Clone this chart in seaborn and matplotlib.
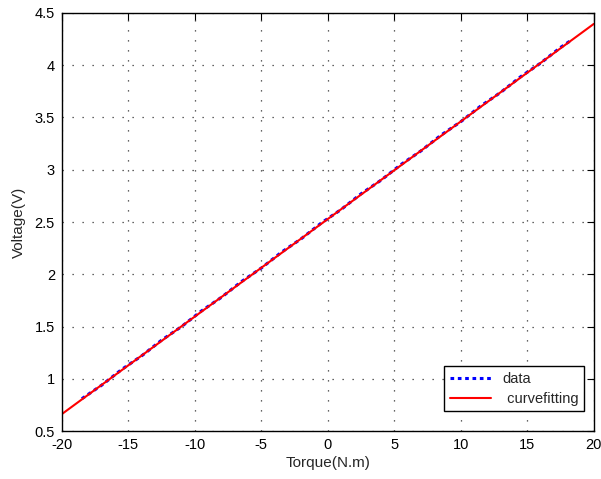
import pandas as pd
import seaborn as sns
import matplotlib.pyplot as plt

# measured points (dotted blue)
torque = [-18.5, -17, -15.5, -14, -12.5, -11, -9.5, -8, -6.5, -5, -3.5, -2, -0.5,
          1, 2.5, 4, 5.5, 7, 8.5, 10, 11.5, 13, 14.5, 16, 17.5, 18.2]
voltage = [0.81, 0.94, 1.09, 1.22, 1.37, 1.50, 1.65, 1.78, 1.93, 2.06, 2.21, 2.34, 2.49,
           2.62, 2.77, 2.90, 3.05, 3.18, 3.33, 3.46, 3.61, 3.74, 3.89, 4.02, 4.17, 4.23]

# fitted line (solid red)
fit_torque = [-20, 20]
fit_voltage = [0.663, 4.395]

xticks = [-20, -15, -10, -5, 0, 5, 10, 15, 20]
yticks = [0.5, 1, 1.5, 2, 2.5, 3, 3.5, 4, 4.5]


def create_plot():
    sns.set_style('white')
    plt.rcParams['font.family'] = ['Liberation Sans', 'DejaVu Sans']

    df = pd.DataFrame({'Torque': torque, 'Voltage': voltage})
    fit = pd.DataFrame({'Torque': fit_torque, 'Voltage': fit_voltage})

    fig = plt.figure(figsize=(6.01, 4.79), dpi=100)
    ax = fig.add_axes([0.103, 0.1, 0.885, 0.873])

    sns.lineplot(data=df, x='Torque', y='Voltage', ax=ax, color='blue',
                 linestyle=(0, (1.2, 1.2)), linewidth=2.2, label='data')
    sns.lineplot(data=fit, x='Torque', y='Voltage', ax=ax, color='red',
                 linewidth=1.5, label=' curvefitting')

    ax.set_xlim(-20, 20)
    ax.set_ylim(0.5, 4.5)
    ax.set_xticks(xticks)
    ax.set_yticks(yticks)
    ax.set_xticklabels([f'{t:g}' for t in xticks])
    ax.set_yticklabels([f'{t:g}' for t in yticks])
    ax.grid(True, color='#333333', linestyle=(0, (1, 7)), linewidth=0.9)
    ax.tick_params(direction='in', length=5, width=0.8, labelsize=10.5, pad=5,
                   top=True, right=True, colors='black')

    for s in ax.spines.values():
        s.set_visible(True)
        s.set_color('black')
        s.set_linewidth(1.0)

    ax.set_xlabel('Torque(N.m)', fontsize=11, labelpad=3)
    ax.set_ylabel('Voltage(V)', fontsize=11, labelpad=6)

    leg = ax.legend(loc='lower right', bbox_to_anchor=(0.982, 0.047), fontsize=10.5,
                    fancybox=False, framealpha=1, edgecolor='black',
                    borderpad=0.4, handlelength=2.8, labelspacing=0.4,
                    borderaxespad=0)
    leg.get_frame().set_linewidth(1.0)

    fig.savefig('out.png', dpi=100)


if __name__ == '__main__':
    create_plot()
